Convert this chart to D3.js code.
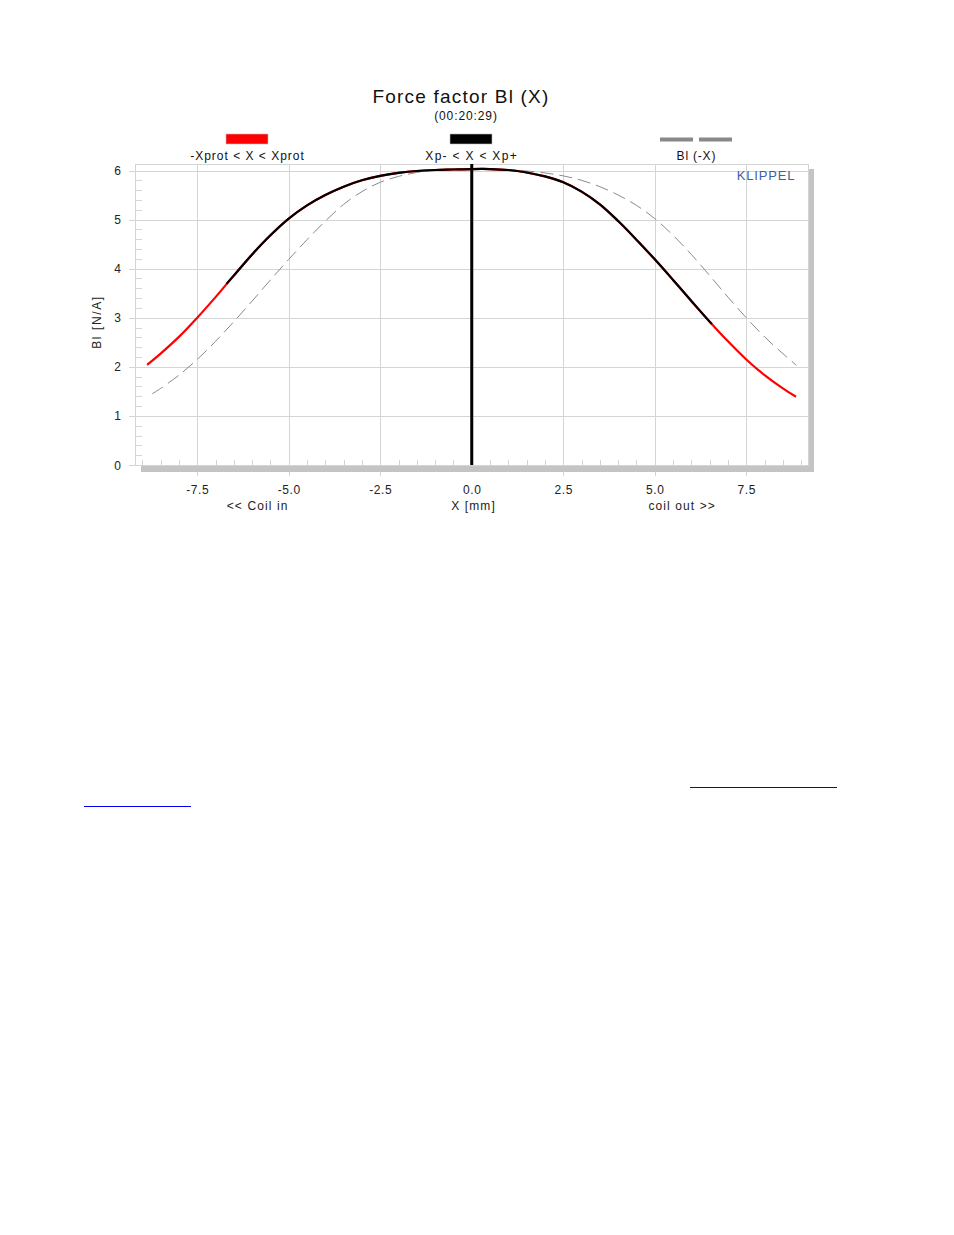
<!DOCTYPE html>
<html><head><meta charset="utf-8">
<script src="https://cdn.jsdelivr.net/npm/d3@7"></script>
<style>body{margin:0;background:#fff;}svg{display:block;font-family:"Liberation Sans",Arial,sans-serif;}</style>
</head><body>
<script>
// ---- data ----
const title = "Force factor Bl (X)";
const subtitle = "(00:20:29)";
const legendLabels = ["-Xprot < X < Xprot", "Xp- < X < Xp+", "Bl (-X)"];
const xTickValues = [-7.5, -5.0, -2.5, 0.0, 2.5, 5.0, 7.5];
const yTickValues = [0, 1, 2, 3, 4, 5, 6];
const xAxisTitles = ["<< Coil in", "X [mm]", "coil out >>"];
const yAxisTitle = "Bl [N/A]";

// red curve: -Xprot < X < Xprot
const protX  = [-8.87,-8.5,-8.0,-7.5,-7.0,-6.5,-6.0,-5.5,-5.0,-4.5,-4.0,-3.5,-3.0,-2.5,-2.0,-1.5,-1.0,-0.5,0.0,0.5,1.0,1.5,2.0,2.5,3.0,3.5,4.0,4.5,5.0,5.5,6.0,6.5,7.0,7.5,8.0,8.5,8.86];
const protBl = [2.04,2.27,2.61,3.00,3.42,3.86,4.29,4.68,5.02,5.29,5.50,5.67,5.80,5.89,5.95,5.99,6.01,6.02,6.03,6.03,6.01,5.96,5.88,5.76,5.57,5.31,4.97,4.59,4.19,3.77,3.34,2.92,2.52,2.15,1.83,1.56,1.39];
// black curve: Xp- < X < Xp+
const xpX  = [-6.7,-6.5,-6.0,-5.5,-5.0,-4.5,-4.0,-3.5,-3.0,-2.5,-2.0,-1.5,-1.0,-0.5,0.0,0.5,1.0,1.5,2.0,2.5,3.0,3.5,4.0,4.5,5.0,5.5,6.0,6.56];
const xpBl = [3.69,3.86,4.29,4.68,5.02,5.29,5.50,5.67,5.80,5.89,5.95,5.99,6.01,6.02,6.03,6.03,6.01,5.96,5.88,5.76,5.57,5.31,4.97,4.59,4.19,3.77,3.34,2.87];
// dashed: Bl(-X)
const mirX  = [-8.73,-8.5,-8.0,-7.5,-7.0,-6.5,-6.0,-5.5,-5.0,-4.5,-4.0,-3.5,-3.0,-2.5,-2.0,-1.5,-1.0,-0.5,0.0,0.5,1.0,1.5,2.0,2.5,3.0,3.5,4.0,4.5,5.0,5.5,6.0,6.5,7.0,7.5,8.0,8.5,8.87];
const mirBl = [1.45,1.56,1.83,2.15,2.52,2.92,3.34,3.77,4.19,4.59,4.97,5.31,5.57,5.76,5.88,5.96,6.01,6.03,6.03,6.02,6.01,5.99,5.95,5.89,5.80,5.67,5.50,5.29,5.02,4.68,4.29,3.86,3.42,3.00,2.61,2.27,2.03];

// ---- layout ----
const W = 954, H = 1235;
const svg = d3.select("body").append("svg").attr("width", W).attr("height", H);
const pL = 135, pR = 808, pT = 164, pB = 465;
const x = d3.scaleLinear().domain([-9.2, 9.2]).range([pL, pR + 0.5]);
const y = d3.scaleLinear().domain([0, 6]).range([pB, 170.5]);
const px = v => Math.round(x(v)) + 0.5;
const py = v => Math.round(y(v)) + 0.5;
const grid = "#d4d4d4";
const fmtX = v => v.toFixed(1);  // plain hyphen minus, as in the reference

// title
svg.append("text").attr("x", 461).attr("y", 103).attr("text-anchor", "middle")
  .attr("font-size", 19).attr("letter-spacing", 1.2).attr("fill", "#111").text(title);
svg.append("text").attr("x", 466).attr("y", 120).attr("text-anchor", "middle")
  .attr("font-size", 12).attr("letter-spacing", 0.9).attr("fill", "#111").text(subtitle);

// legend
const leg = [
  {cx: 247, color: "red", type: "rect", ls: 1.0},
  {cx: 471, color: "black", type: "rect", ls: 1.3},
  {cx: 696, color: "#888", type: "dash", ls: 0.8}
];
leg.forEach((l, i) => {
  if (l.type === "rect") {
    svg.append("rect").attr("x", l.cx - 21).attr("y", 134).attr("width", 42).attr("height", 10)
      .attr("fill", l.color).attr("stroke", "#bbb").attr("stroke-width", 0.6);
  } else {
    svg.append("line").attr("x1", l.cx - 36).attr("x2", l.cx + 36).attr("y1", 139.5).attr("y2", 139.5)
      .attr("stroke", l.color).attr("stroke-width", 4).attr("stroke-dasharray", "33,6");
  }
  svg.append("text").attr("x", l.cx + l.ls / 2).attr("y", 160).attr("text-anchor", "middle")
    .attr("font-size", 12).attr("letter-spacing", l.ls).attr("fill", "#111").text(legendLabels[i]);
});

// shadow (right)
svg.append("rect").attr("x", pR + 1).attr("y", 169).attr("width", 5).attr("height", 303).attr("fill", "#c4c4c4");

// frame
svg.append("rect").attr("x", pL + 0.5).attr("y", pT + 0.5).attr("width", pR - pL).attr("height", pB - pT)
  .attr("fill", "none").attr("stroke", grid);

// horizontal gridlines + major y ticks
const g = svg.append("g");
g.selectAll(".hg").data(yTickValues).join("line")
  .attr("x1", 129).attr("x2", pR).attr("y1", d => py(d)).attr("y2", d => py(d))
  .attr("stroke", grid);
// vertical gridlines + major x ticks
g.selectAll(".vg").data(xTickValues.filter(d => d !== 0)).join("line")
  .attr("y1", pT).attr("y2", 476).attr("x1", d => px(d)).attr("x2", d => px(d))
  .attr("stroke", grid);
// bottom shadow over gridlines
svg.append("rect").attr("x", 141).attr("y", pB + 1).attr("width", pR + 6 - 141).attr("height", 6).attr("fill", "#c4c4c4");

// minor ticks
const yMinor = d3.range(0, 31).map(i => i / 5).filter(v => Math.abs(v - Math.round(v)) > 1e-6);
g.selectAll(".ym").data(yMinor).join("line")
  .attr("x1", pL).attr("x2", pL + 7).attr("y1", d => py(d)).attr("y2", d => py(d))
  .attr("stroke", grid);
const xMinor = d3.range(-18, 19).map(i => i / 2).filter(v => Math.abs(v / 2.5 - Math.round(v / 2.5)) > 1e-6);
g.selectAll(".xm").data(xMinor).join("line")
  .attr("x1", d => px(d)).attr("x2", d => px(d)).attr("y1", pB - 5).attr("y2", pB)
  .attr("stroke", grid);

// tick labels
svg.selectAll(".yl").data(yTickValues).join("text")
  .attr("x", 121).attr("y", d => y(d) + 4.5).attr("text-anchor", "end")
  .attr("font-size", 12).attr("fill", "#222").text(d => d3.format("d")(d));
svg.selectAll(".xl").data(xTickValues).join("text")
  .attr("x", d => x(d) + 0.5).attr("y", 494).attr("text-anchor", "middle")
  .attr("font-size", 12).attr("letter-spacing", 0.6).attr("fill", "#222").text(d => fmtX(d));

// axis titles
[-5.85, 0.05, 5.75].forEach((v, i) => {
  svg.append("text").attr("x", x(v)).attr("y", 510).attr("text-anchor", "middle")
    .attr("font-size", 12).attr("letter-spacing", 1.1).attr("fill", "#222").text(xAxisTitles[i]);
});
svg.append("text").attr("transform", "translate(101,322) rotate(-90)").attr("text-anchor", "middle")
  .attr("font-size", 12).attr("letter-spacing", 1.6).attr("fill", "#222").text(yAxisTitle);

// KLIPPEL
svg.append("text").attr("x", 766).attr("y", 180).attr("text-anchor", "middle")
  .attr("font-size", 13).attr("letter-spacing", 0.8).attr("fill", "#3f5ea8").text("KLIPPEL");

// curves
const line = d3.line().x(d => x(d[0])).y(d => y(d[1])).curve(d3.curveCatmullRom.alpha(0.5));
svg.append("path").datum(d3.zip(mirX, mirBl)).attr("d", line)
  .attr("fill", "none").attr("stroke", "#8a8a8a").attr("stroke-width", 1).attr("stroke-dasharray", "13,6");
svg.append("path").datum(d3.zip(protX, protBl)).attr("d", line)
  .attr("fill", "none").attr("stroke", "#ff0000").attr("stroke-width", 2.2);
svg.append("path").datum(d3.zip(xpX, xpBl)).attr("d", line)
  .attr("fill", "none").attr("stroke", "#000").attr("stroke-width", 2.2);

// zero line
svg.append("line").attr("x1", x(0)).attr("x2", x(0)).attr("y1", pT).attr("y2", pB)
  .attr("stroke", "#000").attr("stroke-width", 3);

// link underlines
svg.append("line").attr("x1", 690).attr("x2", 837).attr("y1", 787.5).attr("y2", 787.5).attr("stroke", "#0000ee").attr("stroke-width", 1);
svg.append("line").attr("x1", 84).attr("x2", 191).attr("y1", 806.5).attr("y2", 806.5).attr("stroke", "#0000ee").attr("stroke-width", 1);
</script>
</body></html>
